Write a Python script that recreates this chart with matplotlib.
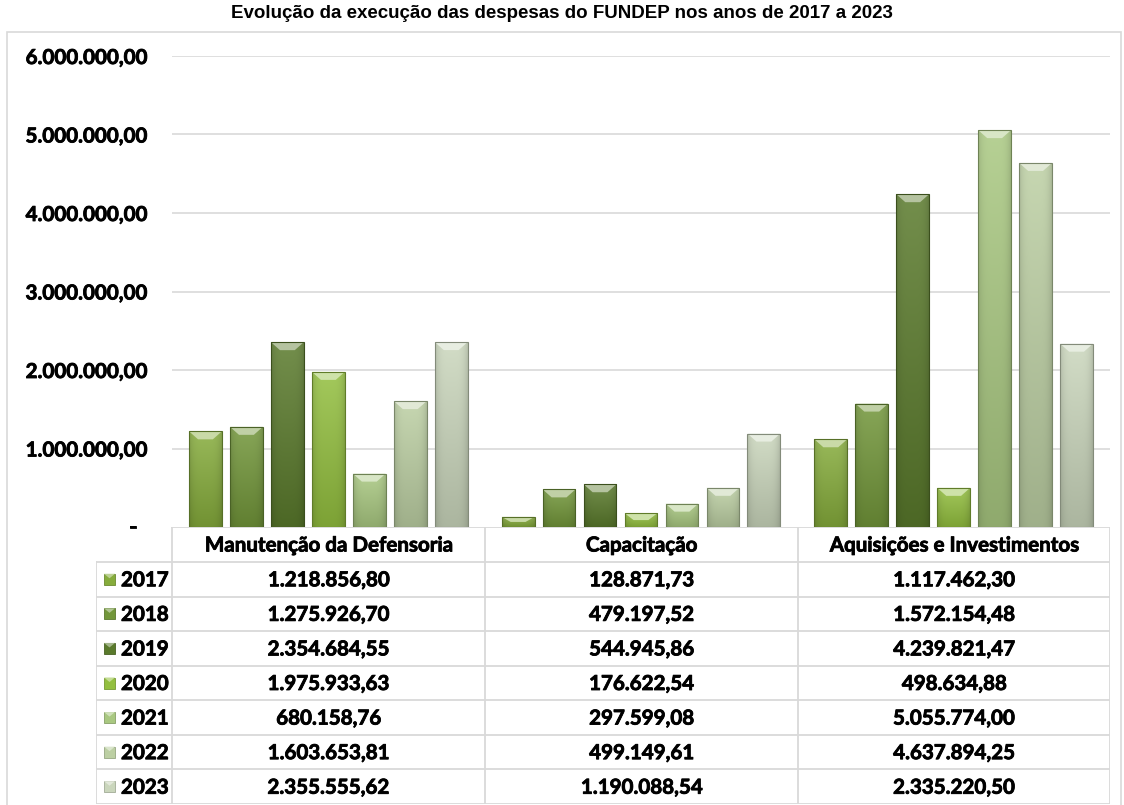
import numpy as np
import matplotlib
matplotlib.use("Agg")
import matplotlib.pyplot as plt
import matplotlib.patheffects as pe
from matplotlib.patches import Rectangle, Polygon
from matplotlib.colors import to_rgb

categories = ["Manutenção da Defensoria", "Capacitação", "Aquisições e Investimentos"]
years = ["2017", "2018", "2019", "2020", "2021", "2022", "2023"]
values = {
    "2017": [1218856.80, 128871.73, 1117462.30],
    "2018": [1275926.70, 479197.52, 1572154.48],
    "2019": [2354684.55, 544945.86, 4239821.47],
    "2020": [1975933.63, 176622.54, 498634.88],
    "2021": [680158.76, 297599.08, 5055774.00],
    "2022": [1603653.81, 499149.61, 4637894.25],
    "2023": [2355555.62, 1190088.54, 2335220.50],
}
colors = ["#86ac3c", "#72963a", "#5a7a2c", "#93bf3f", "#a9c881", "#bccfa3", "#cad6bc"]
yticks = [0, 1e6, 2e6, 3e6, 4e6, 5e6, 6e6]
title = "Evolução da execução das despesas do FUNDEP nos anos de 2017 a 2023"

W, H = 1124, 805
FONT = "Lato"
WT = "bold"
FS = 14.8
GRID = "#d9d9d9"
# Calibri bold looks heavier than Lato bold: thicken with a thin stroke
HEAVY = [pe.withStroke(linewidth=0.6, foreground="black")]


def br(v):
    s = f"{v:,.2f}"
    return s.replace(",", "X").replace(".", ",").replace("X", ".")


def mix(c, other, t):
    c = np.array(to_rgb(c))
    o = np.array(to_rgb(other))
    return tuple(c * (1 - t) + o * t)


fig = plt.figure(figsize=(W / 100, H / 100), dpi=100)
fig.patch.set_facecolor("white")

# outer frame
fig.add_artist(Rectangle((7 / W, -0.01), (1121 - 7) / W, 1 - 32 / H + 0.01,
                         transform=fig.transFigure, fill=False, ec=GRID, lw=1.2))
fig.text(0.5, 1 - 14 / H, title, ha="center", va="center", fontsize=13.5,
         fontweight="bold", family="Liberation Sans")

# chart axes
x0, x1, ytop, ybot = 172, 1110, 56, 527
ax = fig.add_axes([x0 / W, 1 - ybot / H, (x1 - x0) / W, (ybot - ytop) / H])
ax.set_xlim(-0.5, 2.5)
ax.set_ylim(0, 6e6)
for s in ax.spines.values():
    s.set_visible(False)
ax.set_xticks([])
ax.set_yticks(yticks)
ax.set_yticklabels([br(v) if v else "" for v in yticks], fontsize=FS,
                   fontweight=WT, family=FONT)
for lab in ax.get_yticklabels():
    lab.set_path_effects(HEAVY)
ax.tick_params(axis="y", length=0, pad=18)
for v in yticks[1:]:
    ax.axhline(v, color=GRID, lw=1.2, zorder=0)
ax.text(-39 / (x1 - x0) * 3 - 0.5, 0, "-", ha="center", va="center",
        fontsize=FS, fontweight=WT, family=FONT, clip_on=False, path_effects=HEAVY)

step, bw = 0.131, 0.105
px_x = 3.0 / (x1 - x0)          # data units per pixel (x)
px_y = 6e6 / (ybot - ytop)       # data units per pixel (y)
bev_x, bev_y = 9 * px_x, 8 * px_y

grad_h = np.linspace(0, 1, 64)[:, None]
grad_w = np.abs(np.linspace(-1, 1, 32))[None, :]

for j, yr in enumerate(years):
    c = colors[j]
    for i, v in enumerate(values[yr]):
        left = i + (j - 3) * step - bw / 2
        top_c = np.array(mix(c, "white", 0.15))
        bot_c = np.array(mix(c, "black", 0.15))
        img = top_c[None, None, :] * (1 - grad_h[..., None]) + bot_c[None, None, :] * grad_h[..., None]
        img = img * (1 - 0.12 * grad_w[..., None] ** 4)
        img = np.clip(img, 0, 1)
        rect = Rectangle((left, 0), bw, v, fc="none", ec=mix(c, "black", 0.35),
                         lw=0.8, zorder=3)
        ax.add_patch(rect)
        im = ax.imshow(img, extent=[left, left + bw, 0, v], origin="upper",
                       aspect="auto", zorder=2, interpolation="bilinear")
        im.set_clip_path(rect)
        by = min(bev_y, v * 0.5)
        bevel = Polygon([(left, v), (left + bw, v), (left + bw - bev_x, v - by),
                         (left + bev_x, v - by)], closed=True,
                        fc=mix(c, "white", 0.55), ec="none", zorder=2.5)
        ax.add_patch(bevel)

# table
tx0, ty0, ty1 = 96, 527, 804
tab = fig.add_axes([tx0 / W, 1 - ty1 / H, (x1 - tx0) / W, (ty1 - ty0) / H])
tab.set_xlim(tx0, x1)
tab.set_ylim(ty1, ty0)
tab.axis("off")
col_edges = [172, 485, 798, 1110]
head_b = 562
row_h = (ty1 - head_b) / len(years)

tab.plot([col_edges[0], x1], [ty0, ty0], color=GRID, lw=1.3)
for k in range(len(years) + 1):
    y = head_b + k * row_h
    tab.plot([tx0, x1], [y, y], color=GRID, lw=1.3)
tab.plot([tx0, tx0], [head_b, ty1], color=GRID, lw=1.3)
for xe in col_edges:
    tab.plot([xe, xe], [ty0, ty1], color=GRID, lw=1.3)

for i, cat in enumerate(categories):
    cx = (col_edges[i] + col_edges[i + 1]) / 2
    tab.text(cx, (ty0 + head_b) / 2 + 1, cat, ha="center", va="center",
             fontsize=FS, fontweight=WT, family=FONT, path_effects=HEAVY)

for j, yr in enumerate(years):
    cy = head_b + (j + 0.5) * row_h
    c = colors[j]
    tab.add_patch(Rectangle((104, cy - 5.5), 11, 11, fc=c, ec=mix(c, "black", 0.2), lw=0.6))
    tab.add_patch(Polygon([(104, cy - 5.5), (115, cy - 5.5), (109.5, cy - 1)],
                          fc=mix(c, "white", 0.45), ec="none"))
    tab.text(121, cy + 1, yr, ha="left", va="center", fontsize=FS,
             fontweight=WT, family=FONT, path_effects=HEAVY)
    for i, v in enumerate(values[yr]):
        cx = (col_edges[i] + col_edges[i + 1]) / 2
        tab.text(cx, cy + 1, br(v), ha="center", va="center", fontsize=FS,
                 fontweight=WT, family=FONT, path_effects=HEAVY)

fig.savefig("out.png", dpi=100)
